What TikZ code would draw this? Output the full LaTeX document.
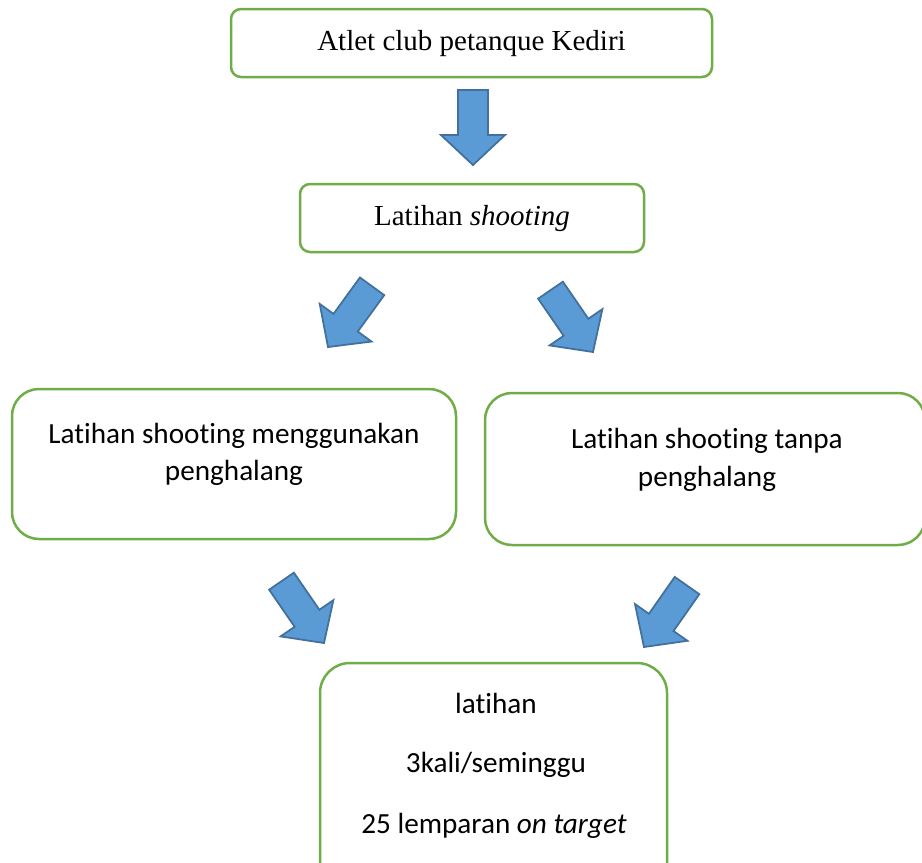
\documentclass[tikz,border=0pt]{standalone}
\usepackage{fontspec}
\setmainfont{Liberation Serif}
\newfontfamily\calfont[RawFeature={-liga;-clig;-calt;-dlig}]{Carlito}
\definecolor{boxgreen}{HTML}{70AD47}
\definecolor{arrowfill}{HTML}{5B9BD5}
\definecolor{arrowline}{HTML}{41719C}
\begin{document}
\begin{tikzpicture}[x=1pt,y=-1pt,
  greenbox/.style={draw=boxgreen, line width=2.5pt, fill=white, rectangle, inner sep=0pt},
  serif29/.style={font=\fontsize{29}{35}\selectfont, inner sep=0pt, anchor=base, align=center},
  cal29/.style={font=\calfont\fontsize{29.2}{37}\selectfont, inner sep=0pt, anchor=base, align=center},
  blockarrow/.pic={\draw[fill=arrowfill, draw=arrowline, line width=1.8pt, line join=miter]
     (-15,-75) -- (15,-75) -- (15,-30) -- (32,-30) -- (0,0) -- (-32,-30) -- (-15,-30) -- cycle;}]
\useasboundingbox (0,0) rectangle (922,863);
% boxes
\node[greenbox, rounded corners=10pt, minimum width=481pt, minimum height=68pt] (b1) at (471.5,43) {};
\node[greenbox, rounded corners=10pt, minimum width=344pt, minimum height=68pt] (b2) at (472,218) {};
\node[greenbox, rounded corners=27pt, minimum width=444pt, minimum height=150pt] (b3) at (234,464) {};
\node[greenbox, rounded corners=27pt, minimum width=440pt, minimum height=152pt] (b4) at (705,469) {};
\node[greenbox, rounded corners=30pt, minimum width=347pt, minimum height=230pt] (b5) at (493.5,778) {};
% texts
\node[serif29] (t1) at (471.5,50) {Atlet club petanque Kediri};
\node[serif29] (t2) at (472,225) {Latihan \textit{shooting}};
\node[cal29] (t3a) at (234,443) {Latihan shooting menggunakan};
\node[cal29] (t3b) at (234,480) {penghalang};
\node[cal29] (t4a) at (707,448) {Latihan shooting tanpa};
\node[cal29] (t4b) at (707,486) {penghalang};
\node[cal29] (t5a) at (496,713) {latihan};
\node[cal29] (t5b) at (496,772) {3kali/seminggu};
\node[cal29] (t5c) at (494,833) {25 lemparan \textit{on target}};
% arrow tips
\coordinate (p1) at (473,165);
\coordinate (p2) at (328,347);
\coordinate (p3) at (593,352);
\coordinate (p4) at (324,643);
\coordinate (p5) at (644,647);
\pic (a1) at (p1) {blockarrow};
\pic[rotate=-36] (a2) at (p2) {blockarrow};
\pic[rotate=34.5] (a3) at (p3) {blockarrow};
\pic[rotate=34.5] (a4) at (p4) {blockarrow};
\pic[rotate=-35] (a5) at (p5) {blockarrow};
\end{tikzpicture}
\end{document}
